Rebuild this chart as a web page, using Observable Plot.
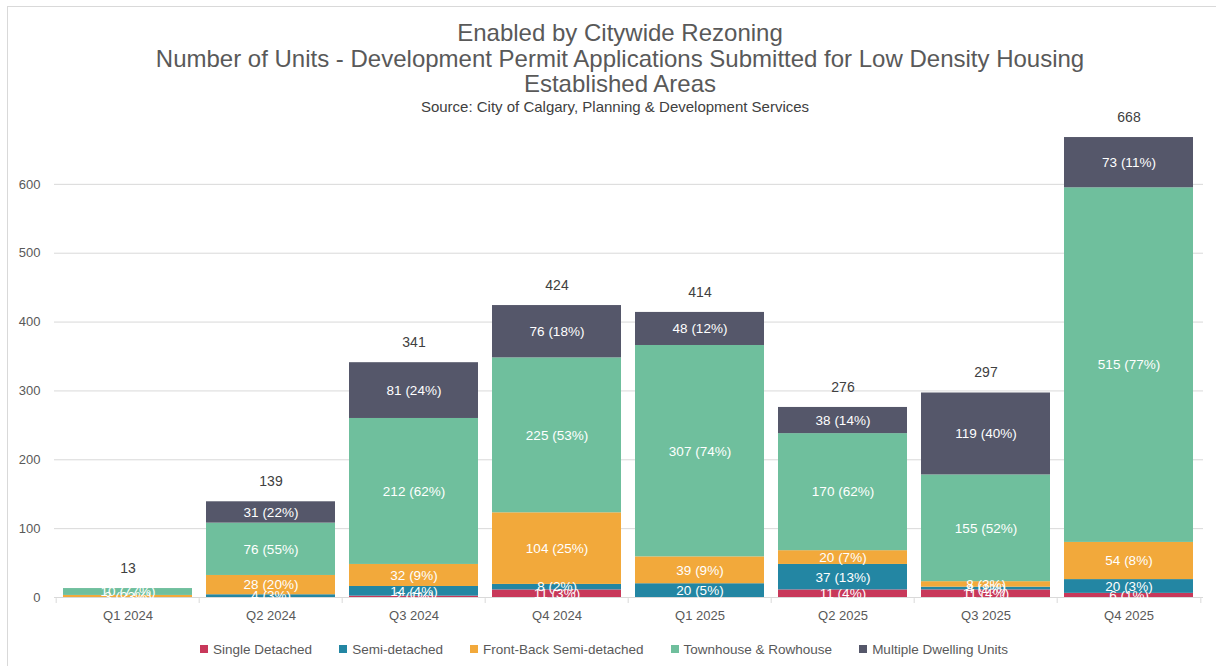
<!DOCTYPE html>
<html><head><meta charset="utf-8">
<script src="https://cdn.jsdelivr.net/npm/d3@7"></script>
<script src="https://cdn.jsdelivr.net/npm/@observablehq/plot@0.6"></script>
<style>
body{margin:0;width:1216px;height:666px;overflow:hidden;background:#fff;font-family:"Liberation Sans",Arial,sans-serif;position:relative}
#frame{position:absolute;left:7px;top:6px;width:1300px;height:700px;border-left:1px solid #d9d9d9;border-top:1px solid #d9d9d9}
#title{position:absolute;left:0;width:1240px;top:20px;text-align:center;color:#595959;font-size:24px;line-height:25.5px}
#source{position:absolute;left:0;width:1230px;top:99px;text-align:center;color:#404040;font-size:15px;line-height:16px}
#chart{position:absolute;left:0;top:95px}
#legend{position:absolute;top:642px;left:0;width:1208px;display:flex;justify-content:center;gap:27px;font-size:13.5px;color:#595959;line-height:16px}
#legend span.sw{display:inline-block;width:8px;height:8px;margin-right:5px;vertical-align:1px}
</style></head>
<body>
<div id="frame"></div>
<div id="title">Enabled by Citywide Rezoning<br>Number of Units - Development Permit Applications Submitted for Low Density Housing<br>Established Areas</div>
<div id="source">Source: City of Calgary, Planning &amp; Development Services</div>
<div id="chart"></div>
<div id="legend"></div>
<script>
const quarters = ["Q1 2024","Q2 2024","Q3 2024","Q4 2024","Q1 2025","Q2 2025","Q3 2025","Q4 2025"];
const categories = ["Single Detached","Semi-detached","Front-Back Semi-detached","Townhouse & Rowhouse","Multiple Dwelling Units"];
const colors = ["#c8385a","#2386a3","#f2a93b","#6fbf9d","#55576a"];
const singleDetached = [0, 0, 2, 11, 0, 11, 11, 6];
const semiDetached   = [0, 4, 14, 8, 20, 37, 4, 20];
const frontBack      = [3, 28, 32, 104, 39, 20, 8, 54];
const townhouse      = [10, 76, 212, 225, 307, 170, 155, 515];
const multiDwelling  = [0, 31, 81, 76, 48, 38, 119, 73];
const yTicks = [0,100,200,300,400,500,600];

const series = [singleDetached, semiDetached, frontBack, townhouse, multiDwelling];
const totals = quarters.map((q,i)=>({quarter:q, total: d3.sum(series, s=>s[i])}));
const rows = [];
quarters.forEach((q,i)=>{
  categories.forEach((c,j)=>{
    const v = series[j][i];
    rows.push({quarter:q, type:c, value:v, pct: Math.round(v/totals[i].total*100)});
  });
});

const step = (1216-54-13)/quarters.length;
const chart = Plot.plot({
  width:1216, height:542,
  marginTop:20, marginBottom:40, marginLeft:54, marginRight:13,
  style:{fontFamily:'"Liberation Sans", Arial, sans-serif', background:"transparent", overflow:"visible"},
  x:{domain:quarters, paddingInner:0.095, paddingOuter:0.0475, label:null},
  y:{domain:[0,700], label:null},
  color:{domain:categories, range:colors},
  marks:[
    Plot.gridY(yTicks, {stroke:"#d9d9d9", strokeOpacity:1}),
    Plot.ruleX(quarters, {x:d=>d, y1:0, y2:7, dy:6, dx:-step/2, stroke:"#d9d9d9"}),
    Plot.ruleX([quarters[quarters.length-1]], {x:d=>d, y1:0, y2:7, dy:6, dx:step/2, stroke:"#d9d9d9"}),
    Plot.axisY(yTicks, {tickSize:0, tickPadding:14, fontSize:13, fill:"#595959"}),
    Plot.axisX({tickSize:0, tickPadding:13, fontSize:13, fill:"#595959"}),
    Plot.barY(rows, {x:"quarter", y:"value", fill:"type", order:categories}),
    Plot.text(rows, Plot.stackY({x:"quarter", y:"value", z:"type", order:categories,
      text:d=> d.value>0 ? `${d.value} (${d.pct}%)` : "", fill:"white", fontSize:13.5})),
    Plot.text(totals, {x:"quarter", y:"total", text:d=>String(d.total), dy:-20, fontSize:14, fill:"#404040"})
  ]
});
document.getElementById("chart").appendChild(chart);

const legend = document.getElementById("legend");
categories.forEach((c,i)=>{
  const item = document.createElement("div");
  item.innerHTML = `<span class="sw" style="background:${colors[i]}"></span>${c.replace("&","&amp;")}`;
  legend.appendChild(item);
});
</script>
</body></html>
